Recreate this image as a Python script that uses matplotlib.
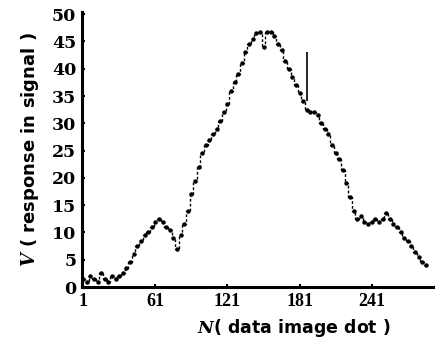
import matplotlib
matplotlib.use("Agg")
import matplotlib.pyplot as plt

plt.rcParams['font.family'] = ['DejaVu Sans']
plt.rcParams['font.weight'] = 'bold'
plt.rcParams['mathtext.fontset'] = 'custom'
plt.rcParams['mathtext.it'] = 'DejaVu Serif:italic:bold'
plt.rcParams['mathtext.rm'] = 'DejaVu Sans:bold'

# data
n_values = [1, 4, 7, 10, 13, 16, 19, 22, 25, 28, 31, 34,
            37, 40, 43, 46, 49,
            52, 55, 58, 61, 64, 67, 70, 73, 76, 79,
            82, 85, 88, 91, 94, 97, 100,
            103, 106, 109, 112, 115, 118, 121, 124, 127, 130,
            133, 136, 139, 142, 145, 148, 151, 154, 157, 160,
            163, 166, 169, 172, 175, 178, 181, 184, 187, 190,
            193, 196, 199, 202, 205, 208, 211, 214, 217, 220,
            223, 226, 229, 232, 235, 238, 241, 244, 247, 250,
            253, 256, 259, 262, 265, 268, 271, 274, 277, 280, 283, 286]
v_values = [1.5, 1.0, 2.0, 1.5, 1.0, 2.5, 1.5, 1.0, 2.0, 1.5, 2.0, 2.5,
            3.5, 4.5, 6.0, 7.5, 8.5,
            9.5, 10.0, 11.0, 12.0, 12.5, 12.0, 11.0, 10.5, 9.0, 7.0,
            9.5, 11.5, 14.0, 17.0, 19.5, 22.0, 24.5,
            26.0, 27.0, 28.0, 29.0, 30.5, 32.0, 33.5, 36.0, 37.5, 39.0,
            41.0, 43.0, 44.5, 45.5, 46.5, 46.7, 44.0, 46.7, 46.7, 46.0,
            44.5, 43.5, 41.5, 40.0, 38.5, 37.0, 35.5, 34.0, 32.5, 32.0,
            32.0, 31.5, 30.0, 29.0, 28.0, 26.0, 24.5, 23.5, 21.5, 19.0,
            16.5, 14.0, 12.5, 13.0, 12.0, 11.5, 12.0, 12.5, 12.0, 12.5,
            13.5, 12.5, 11.5, 11.0, 10.0, 9.0, 8.5, 7.5, 6.5, 5.5, 4.5, 4.0]
outlier_n = [187]
outlier_low = [34.0]
outlier_high = [43.0]

x_ticks = [1, 61, 121, 181, 241]
y_ticks = [0, 5, 10, 15, 20, 25, 30, 35, 40, 45, 50]

fig = plt.figure(figsize=(4.40, 3.47), dpi=100)
ax = fig.add_axes([82/440, 1-287/347, (433-82)/440, (287-12)/347])

ax.plot(n_values, v_values, drawstyle='steps-mid', color='black', lw=1.0,
        linestyle=(0, (2, 1.5)))
ax.plot(n_values, v_values, linestyle='none', marker='o', ms=2.2, color='black')
ax.vlines(outlier_n, outlier_low, outlier_high, color='black', lw=1.2)

ax.set_xlim(0, 292)
ax.set_ylim(0, 50.4)
ax.set_xticks(x_ticks)
ax.set_yticks(y_ticks)
ax.tick_params(direction='in', length=2, width=1.5, pad=4)
for lab in ax.get_xticklabels():
    lab.set_fontfamily('Liberation Serif')
    lab.set_fontweight('bold')
    lab.set_fontsize(13)
for lab in ax.get_yticklabels():
    lab.set_fontfamily('DejaVu Serif')
    lab.set_fontweight('bold')
    lab.set_fontsize(12.5)

for s in ['top', 'right']:
    ax.spines[s].set_visible(False)
for s in ['left', 'bottom']:
    ax.spines[s].set_linewidth(2.2)

fig.text(30/440, 1-150/347, r'$V$ ( response in signal )', fontsize=13,
         fontweight='bold', ha='center', va='center', rotation=90)
fig.text(294/440, 1-328/347, r'$N$( data image dot )', fontsize=12.5,
         fontweight='bold', ha='center', va='center')

fig.savefig('out.png', dpi=100)
